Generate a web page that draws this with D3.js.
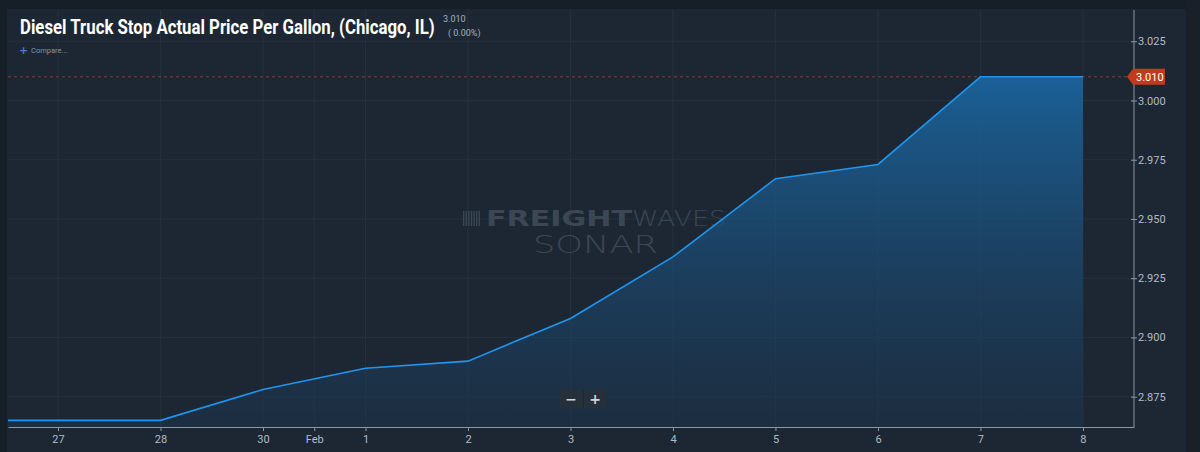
<!DOCTYPE html>
<html>
<head>
    <script src="https://cdn.jsdelivr.net/npm/d3@7"></script>
    <style>
        body { margin: 0; background: #161e27; }
        #my-svg { width: 1200px; height: 452px; display: block; }
    </style>
</head>
<body>

    <svg id="my-svg"></svg>

<script>
    // tick labels along the bottom and where they sit (session index)
    const tickLabels = ["27", "28", "30", "Feb", "1", "2", "3", "4", "5", "6", "7", "8"];
    const tickPos = [0, 1, 2, 2.5, 3, 4, 5, 6, 7, 8, 9, 10];

    // price series
    const pointPos = [-1, 0, 1, 2, 3, 4, 5, 6, 7, 8, 9, 10];
    const prices = [2.865, 2.865, 2.865, 2.878, 2.887, 2.890, 2.908, 2.934, 2.967, 2.973, 3.010, 3.010];

    const yTicks = [2.875, 2.900, 2.925, 2.950, 2.975, 3.000, 3.025];
    const lastPrice = 3.010;

    const width = 1200;
    const height = 452;
    const plotLeft = 8, plotRight = 1134, plotTop = 10, plotBottom = 427;

    let svg = d3.select("#my-svg");

    // frame
    svg.append("rect").attr("width", width).attr("height", height).attr("fill", "#161e27");
    svg.append("rect")
        .attr("x", 7).attr("y", 9).attr("width", 1179).attr("height", height - 9)
        .attr("fill", "#1c2733");
    svg.append("rect")
        .attr("x", 1186).attr("y", 0).attr("width", 14).attr("height", height)
        .attr("fill", "#1a2027");

    let x = d3.scaleLinear().domain([-0.488, 10.498]).range([plotLeft, plotRight]);
    let y = d3.scaleLinear().domain([2.8622, 3.0382]).range([plotBottom, plotTop]);

    let defs = svg.append("defs");
    defs.append("clipPath").attr("id", "plot-clip")
        .append("rect").attr("x", plotLeft).attr("y", plotTop)
        .attr("width", plotRight - plotLeft).attr("height", plotBottom - plotTop);

    // grid
    let grid = svg.append("g");
    grid.selectAll("line.v")
        .data(tickPos)
        .join("line")
        .attr("class", "v")
        .attr("x1", d => x(d)).attr("x2", d => x(d))
        .attr("y1", plotTop).attr("y2", plotBottom)
        .attr("stroke", "#25313d").attr("stroke-width", 1);
    grid.selectAll("line.h")
        .data(yTicks)
        .join("line")
        .attr("class", "h")
        .attr("x1", plotLeft).attr("x2", plotRight)
        .attr("y1", d => y(d)).attr("y2", d => y(d))
        .attr("stroke", "#25313d").attr("stroke-width", 1);

    // watermark
    let wm = svg.append("g").attr("fill", "#3b4753");
    for (let i = 0; i < 7; i++) {
        wm.append("rect").attr("x", 463 + i * 2.6).attr("y", 211).attr("width", 1.4).attr("height", 15);
    }
    wm.append("text").attr("x", 486).attr("y", 226)
        .attr("font-family", "DejaVu Sans").attr("font-weight", "bold").attr("font-size", 21)
        .attr("textLength", 146).attr("lengthAdjust", "spacingAndGlyphs")
        .text("FREIGHT");
    wm.append("text").attr("x", 632).attr("y", 226)
        .attr("font-family", "DejaVu Sans").attr("font-weight", "200").attr("font-size", 21)
        .attr("textLength", 94).attr("lengthAdjust", "spacingAndGlyphs")
        .text("WAVES");
    wm.append("text").attr("x", 533).attr("y", 253)
        .attr("font-family", "DejaVu Sans").attr("font-weight", "200").attr("font-size", 25)
        .attr("textLength", 125).attr("lengthAdjust", "spacingAndGlyphs")
        .text("SONAR");

    // area + line
    let grad = defs.append("linearGradient").attr("id", "area-grad")
        .attr("x1", 0).attr("y1", 0).attr("x2", 0).attr("y2", 1);
    grad.append("stop").attr("offset", "0%").attr("stop-color", "#1a6aa8").attr("stop-opacity", 0.85);
    grad.append("stop").attr("offset", "100%").attr("stop-color", "#1c3550").attr("stop-opacity", 0.45);

    let series = pointPos.map((p, i) => ({ p: p, v: prices[i] }));

    let plot = svg.append("g").attr("clip-path", "url(#plot-clip)");

    plot.append("path")
        .datum(series)
        .attr("d", d3.area().x(d => x(d.p)).y0(plotBottom).y1(d => y(d.v)))
        .attr("fill", "url(#area-grad)");

    // last price dotted line
    plot.append("line")
        .attr("x1", plotLeft).attr("x2", plotRight)
        .attr("y1", y(lastPrice)).attr("y2", y(lastPrice))
        .attr("stroke", "#8a3a2c").attr("stroke-width", 1)
        .attr("stroke-dasharray", "3,3");

    plot.append("path")
        .datum(series)
        .attr("d", d3.line().x(d => x(d.p)).y(d => y(d.v)))
        .attr("fill", "none")
        .attr("stroke", "#1f95f0")
        .attr("stroke-width", 1.6);

    // axes
    let xAxis = d3.axisBottom(x)
        .tickValues(tickPos)
        .tickFormat((d, i) => tickLabels[i])
        .tickSize(4).tickSizeOuter(0);
    let gx = svg.append("g").attr("transform", `translate(0,${plotBottom})`).call(xAxis);
    gx.select(".domain").attr("stroke", "#8e98a2");
    gx.selectAll(".tick line").attr("stroke", "#8e98a2");
    gx.selectAll(".tick text")
        .attr("fill", "#b4bcc4").attr("font-family", "Roboto").attr("font-size", 11).attr("dy", "0.8em");

    let yAxis = d3.axisRight(y)
        .tickValues(yTicks)
        .tickFormat(d3.format(".3f"))
        .tickSize(3).tickSizeOuter(0);
    let gy = svg.append("g").attr("transform", `translate(${plotRight},0)`).call(yAxis);
    gy.select(".domain").attr("stroke", "#8e98a2").attr("d", `M0,${plotTop}V${plotBottom}`);
    gy.selectAll(".tick line").attr("stroke", "#8e98a2").attr("x1", -3);
    gy.selectAll(".tick text")
        .attr("fill", "#b4bcc4").attr("font-family", "Roboto").attr("font-size", 11).attr("x", 4);

    // last price marker
    let ly = y(lastPrice);
    svg.append("path")
        .attr("d", `M${plotRight - 7},${ly} L${plotRight - 1},${ly - 8} H${plotRight + 31} V${ly + 8} H${plotRight - 1} Z`)
        .attr("fill", "#c23a1c");
    svg.append("text")
        .attr("x", plotRight + 2).attr("y", ly + 4)
        .attr("fill", "#ffffff").attr("font-family", "Roboto").attr("font-size", 11)
        .text(d3.format(".3f")(lastPrice));

    // title block: squeeze horizontally to mimic the condensed face
    let title = svg.append("text")
        .attr("x", 0).attr("y", 0)
        .attr("fill", "#ffffff").attr("font-family", "Roboto").attr("font-weight", "bold")
        .attr("font-size", 20)
        .text("Diesel Truck Stop Actual Price Per Gallon, (Chicago, IL)");
    let natural = title.node().getComputedTextLength();
    title.attr("transform", `translate(20,34) scale(${415 / natural},1)`);

    svg.append("text")
        .attr("x", 443).attr("y", 22)
        .attr("fill", "#a8b0b8").attr("font-family", "Roboto").attr("font-size", 9)
        .text(d3.format(".3f")(lastPrice));
    svg.append("text")
        .attr("x", 448).attr("y", 36)
        .attr("fill", "#a8b0b8").attr("font-family", "Roboto").attr("font-size", 9)
        .text("( 0.00%)");

    svg.append("text")
        .attr("x", 19).attr("y", 54)
        .attr("fill", "#3f7fe0").attr("font-family", "DejaVu Sans").attr("font-weight", "bold").attr("font-size", 11)
        .text("+");
    svg.append("text")
        .attr("x", 31).attr("y", 53)
        .attr("fill", "#8a949e").attr("font-family", "Roboto").attr("font-size", 7.5)
        .text("Compare...");

    // zoom buttons
    let zb = svg.append("g");
    zb.append("rect").attr("x", 560).attr("y", 390).attr("width", 47).attr("height", 18)
        .attr("fill", "#25303b");
    zb.append("rect").attr("x", 583).attr("y", 390).attr("width", 1).attr("height", 18)
        .attr("fill", "#1c2733");
    zb.append("text").attr("x", 571).attr("y", 404).attr("text-anchor", "middle")
        .attr("fill", "#d0d6dc").attr("font-family", "DejaVu Sans").attr("font-weight", "bold").attr("font-size", 14)
        .text("−");
    zb.append("text").attr("x", 595).attr("y", 404).attr("text-anchor", "middle")
        .attr("fill", "#d0d6dc").attr("font-family", "DejaVu Sans").attr("font-weight", "bold").attr("font-size", 14)
        .text("+");
</script>
</body>
</html>
